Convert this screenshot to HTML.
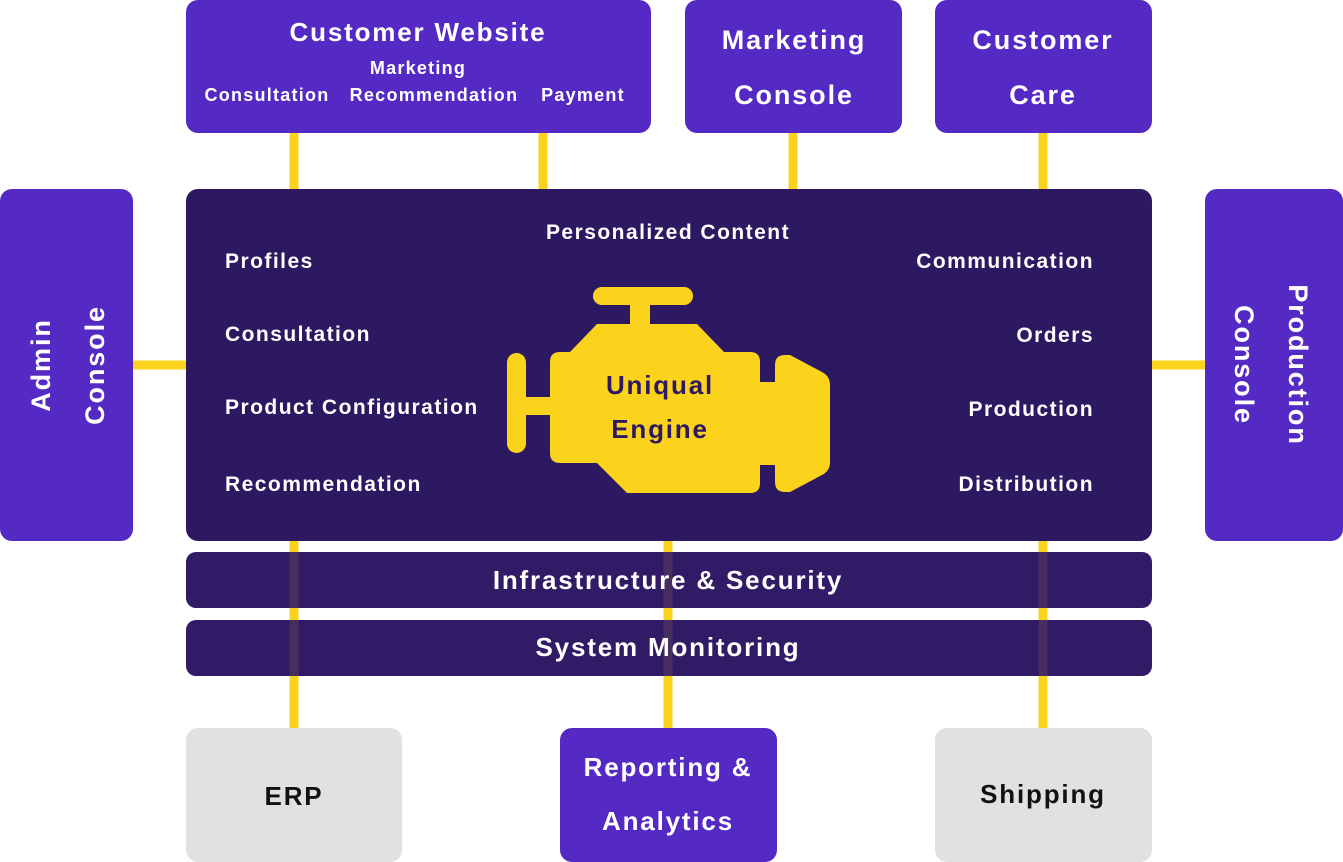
<!DOCTYPE html>
<html><head><meta charset="utf-8"><style>
html,body{margin:0;padding:0;background:#fff;}
svg{display:block;}
text{font-family:"Liberation Sans",sans-serif;font-weight:bold;letter-spacing:0.07em;}
</style></head><body>
<svg width="1343" height="862" viewBox="0 0 1343 862" xmlns="http://www.w3.org/2000/svg">
<g stroke="#fbd31c" stroke-width="9">
<line x1="294" y1="130" x2="294" y2="730"/>
<line x1="543" y1="130" x2="543" y2="192"/>
<line x1="793" y1="130" x2="793" y2="192"/>
<line x1="1043" y1="130" x2="1043" y2="730"/>
<line x1="668" y1="540" x2="668" y2="730"/>
<line x1="130" y1="365" x2="190" y2="365"/>
<line x1="1150" y1="365" x2="1208" y2="365"/>
</g>
<rect x="186" y="0" width="465" height="133" rx="12" fill="#5429c4"/>
<rect x="685" y="0" width="217" height="133" rx="12" fill="#5429c4"/>
<rect x="935" y="0" width="217" height="133" rx="12" fill="#5429c4"/>
<g fill="#fff" text-anchor="middle">
<text x="418" y="41" font-size="26">Customer Website</text>
<text x="418" y="74" font-size="18">Marketing</text>
<text x="267" y="101" font-size="18">Consultation</text>
<text x="434" y="101" font-size="18">Recommendation</text>
<text x="583" y="101" font-size="18">Payment</text>
<text x="794" y="49" font-size="27">Marketing</text>
<text x="794" y="104" font-size="27">Console</text>
<text x="1043" y="49" font-size="27">Customer</text>
<text x="1043" y="104" font-size="27">Care</text>
</g>
<rect x="0" y="189" width="133" height="352" rx="12" fill="#5429c4"/>
<rect x="1205" y="189" width="138" height="352" rx="12" fill="#5429c4"/>
<g fill="#fff" text-anchor="middle" font-size="27">
<text transform="translate(50,365) rotate(-90)">Admin</text>
<text transform="translate(104,365) rotate(-90)">Console</text>
<text transform="translate(1289,365) rotate(90)">Production</text>
<text transform="translate(1235,365) rotate(90)">Console</text>
</g>
<rect x="186" y="189" width="966" height="352" rx="12" fill="#2d1862"/>
<g fill="#fff" font-size="21">
<text x="668" y="239" text-anchor="middle">Personalized Content</text>
<text x="225" y="268">Profiles</text>
<text x="225" y="341">Consultation</text>
<text x="225" y="414">Product Configuration</text>
<text x="225" y="491">Recommendation</text>
<text x="1094" y="268" text-anchor="end">Communication</text>
<text x="1094" y="342" text-anchor="end">Orders</text>
<text x="1094" y="416" text-anchor="end">Production</text>
<text x="1094" y="491" text-anchor="end">Distribution</text>
</g>
<g fill="#fbd31c">
<rect x="593" y="287" width="100" height="18" rx="9"/>
<rect x="630" y="300" width="20" height="28"/>
<path d="M597 324 L697 324 L724 352 L750 352 Q760 352 760 362 L760 483 Q760 493 750 493 L627 493 L597 463 L560 463 Q550 463 550 453 L550 362 Q550 352 560 352 L570 352 Z"/>
<rect x="507" y="353" width="19" height="100" rx="9.5"/>
<rect x="520" y="397" width="34" height="18"/>
<rect x="755" y="382" width="25" height="83"/>
<path d="M785 355 L790 355 L822 372 Q830 376 830 385 L830 462 Q830 471 822 475 L790 492 L785 492 Q775 492 775 482 L775 365 Q775 355 785 355 Z"/>
</g>
<g fill="#2d1862" font-size="26" text-anchor="middle" style="letter-spacing:5px">
<text x="660" y="394">Uniqual</text>
<text x="660" y="438">Engine</text>
</g>
<rect x="186" y="552" width="966" height="56" rx="10" fill="#311b66"/>
<rect x="186" y="620" width="966" height="56" rx="10" fill="#311b66"/>
<g stroke="#fbd31c" stroke-width="9" stroke-opacity="0.1">
<line x1="294" y1="552" x2="294" y2="676"/>
<line x1="668" y1="552" x2="668" y2="676"/>
<line x1="1043" y1="552" x2="1043" y2="676"/>
</g>
<g fill="#fff" font-size="26" text-anchor="middle">
<text x="668" y="589">Infrastructure &amp; Security</text>
<text x="668" y="656">System Monitoring</text>
</g>
<rect x="186" y="728" width="216" height="134" rx="12" fill="#e1e1e1"/>
<rect x="560" y="728" width="217" height="134" rx="12" fill="#5429c4"/>
<rect x="935" y="728" width="217" height="134" rx="12" fill="#e1e1e1"/>
<g font-size="26" text-anchor="middle">
<text x="294" y="805" fill="#111">ERP</text>
<text x="1043" y="803" fill="#111">Shipping</text>
<text x="668" y="776" fill="#fff">Reporting &amp;</text>
<text x="668" y="830" fill="#fff">Analytics</text>
</g>
</svg>
</body></html>
